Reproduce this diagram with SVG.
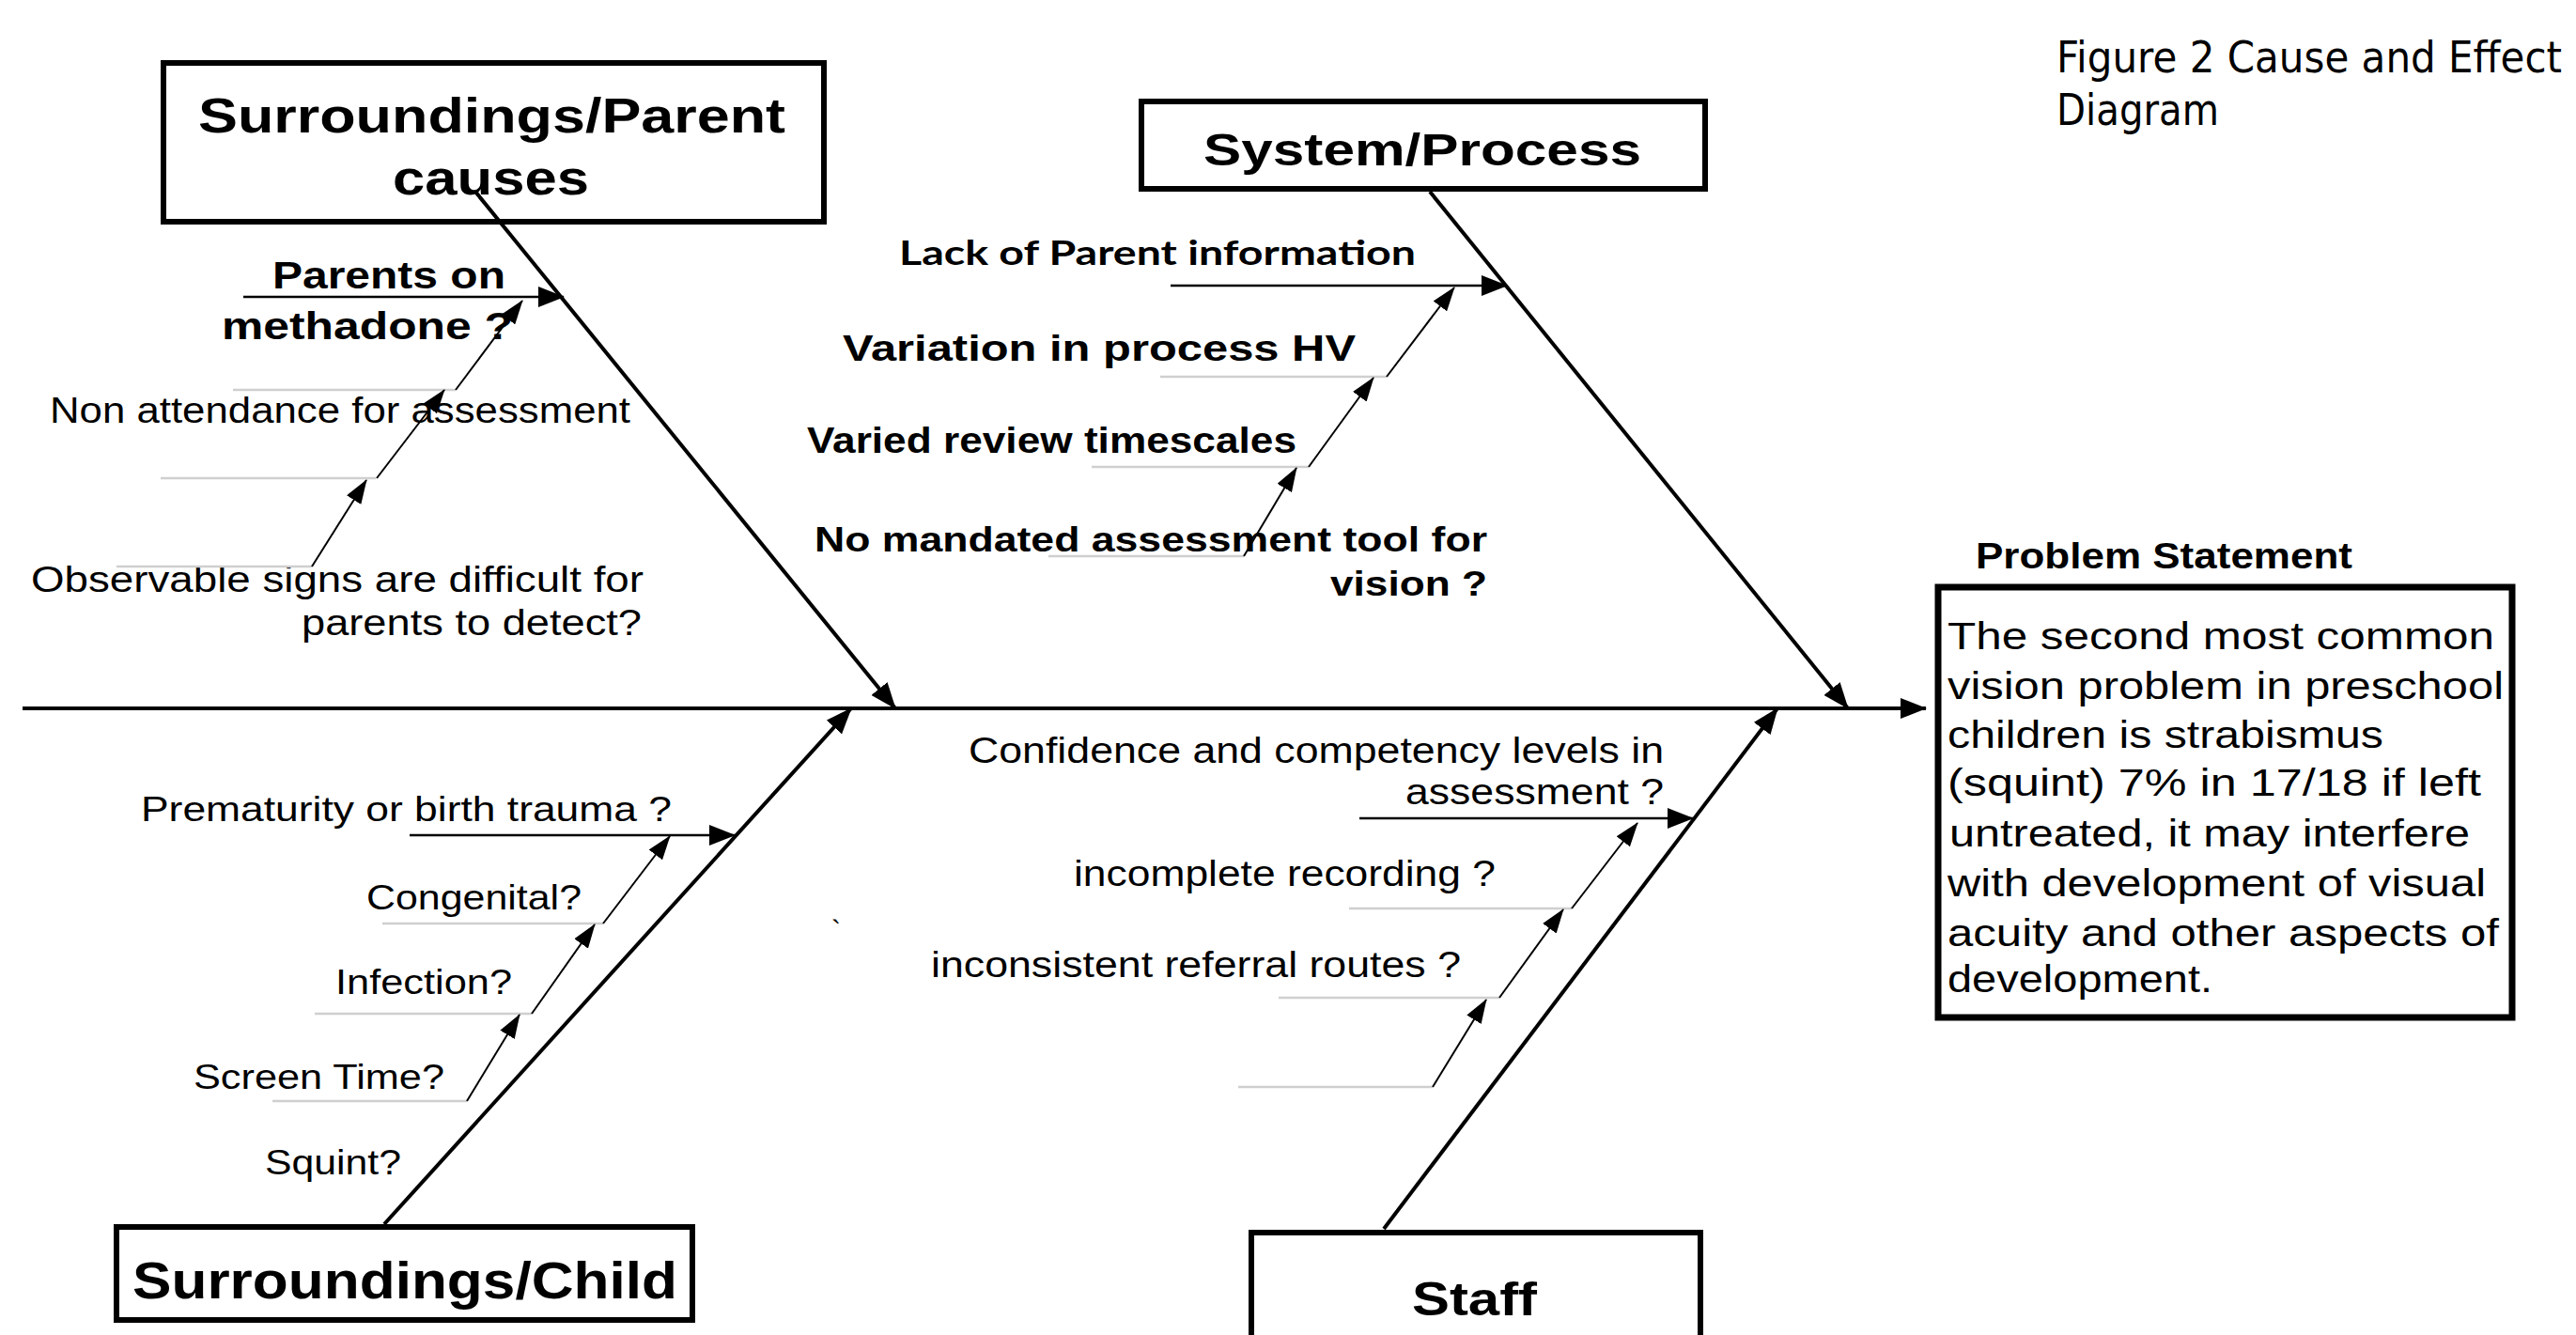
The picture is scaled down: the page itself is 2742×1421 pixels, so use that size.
<svg xmlns="http://www.w3.org/2000/svg" width="2742" height="1421" viewBox="0 0 2742 1421">
<defs>
<marker id="big" markerUnits="userSpaceOnUse" markerWidth="28" markerHeight="22" refX="27" refY="11" orient="auto"><path d="M0,0 L28,11 L0,22 z" fill="#000"/></marker>
<marker id="small" markerUnits="userSpaceOnUse" markerWidth="26" markerHeight="18" refX="25" refY="9" orient="auto"><path d="M0,0 L26,9 L0,18 z" fill="#000"/></marker>
</defs>
<style>
.box{fill:#fff;stroke:#000;stroke-width:6}
.title{font-family:"Liberation Sans",Arial,sans-serif;font-weight:bold;fill:#000}
.t{font-family:"Liberation Sans",Arial,sans-serif;fill:#000}
.b{font-family:"Liberation Sans",Arial,sans-serif;font-weight:bold;fill:#000}
.bone{stroke:#000;stroke-width:4;fill:none;marker-end:url(#big)}
.harr{stroke:#000;stroke-width:2.5;fill:none;marker-end:url(#big)}
.diag{stroke:#000;stroke-width:2;fill:none;marker-end:url(#small)}
.grey{stroke:#cfcfcf;stroke-width:2.5;fill:none}
</style>
<rect width="2742" height="1421" fill="#fff"/>

<g id="node-parent">
<rect class="box" x="174" y="67" width="703" height="169"/>
<text class="title" x="211" y="141" font-size="52" textLength="625" lengthAdjust="spacingAndGlyphs">Surroundings/Parent</text>
<text class="title" x="418" y="207" font-size="52" textLength="209" lengthAdjust="spacingAndGlyphs">causes</text>
</g>

<g id="node-system">
<rect class="box" x="1215" y="108" width="600" height="93"/>
<text class="title" x="1281" y="176" font-size="49" textLength="466" lengthAdjust="spacingAndGlyphs">System/Process</text>
</g>

<g id="node-child">
<rect class="box" x="124" y="1306" width="613" height="99"/>
<text class="title" x="141" y="1382" font-size="56" textLength="580" lengthAdjust="spacingAndGlyphs">Surroundings/Child</text>
</g>

<g id="node-staff">
<rect class="box" x="1332" y="1312" width="478" height="150"/>
<text class="title" x="1503" y="1400" font-size="50" textLength="133" lengthAdjust="spacingAndGlyphs">Staff</text>
</g>

<g id="node-problem">
<text class="b" x="2103" y="605" font-size="38" textLength="401" lengthAdjust="spacingAndGlyphs">Problem Statement</text>
<rect x="2063" y="625" width="611" height="458" fill="#fff" stroke="#000" stroke-width="7"/>
<g class="t" font-size="41">
<text x="2073" y="691" textLength="582" lengthAdjust="spacingAndGlyphs">The second  most common</text>
<text x="2073" y="744" textLength="592" lengthAdjust="spacingAndGlyphs">vision problem in preschool</text>
<text x="2073" y="796" textLength="464" lengthAdjust="spacingAndGlyphs">children is strabismus</text>
<text x="2073" y="847" textLength="568" lengthAdjust="spacingAndGlyphs">(squint) 7%  in 17/18 if left</text>
<text x="2075" y="901" textLength="554" lengthAdjust="spacingAndGlyphs">untreated, it may interfere</text>
<text x="2073" y="954" textLength="573" lengthAdjust="spacingAndGlyphs">with development of visual</text>
<text x="2073" y="1007" textLength="587" lengthAdjust="spacingAndGlyphs">acuity and other aspects of</text>
<text x="2073" y="1056" textLength="282" lengthAdjust="spacingAndGlyphs">development.</text>
</g>
</g>

<g id="figure-caption">
<text x="2189" y="77" font-family="'DejaVu Sans',sans-serif" font-size="46" textLength="538" lengthAdjust="spacingAndGlyphs" fill="#000">Figure 2 Cause and Effect</text>
<text x="2189" y="133" font-family="'DejaVu Sans',sans-serif" font-size="46" textLength="173" lengthAdjust="spacingAndGlyphs" fill="#000">Diagram</text>
</g>

<g id="causes-parent">
<text class="b" x="290" y="307" font-size="41" textLength="248" lengthAdjust="spacingAndGlyphs">Parents on</text>
<text class="b" x="236" y="361" font-size="41" textLength="310" lengthAdjust="spacingAndGlyphs">methadone ?</text>
<text class="t" x="53" y="450" font-size="38" textLength="618" lengthAdjust="spacingAndGlyphs">Non attendance  for assessment</text>
<text class="t" x="33" y="630" font-size="38" textLength="652" lengthAdjust="spacingAndGlyphs">Observable  signs  are difficult for</text>
<text class="t" x="321" y="676" font-size="38" textLength="362" lengthAdjust="spacingAndGlyphs">parents  to  detect?</text>
</g>

<g id="causes-system">
<text x="957" y="282" font-family="Lato,'Liberation Sans',sans-serif" font-weight="bold" font-size="37" textLength="550" lengthAdjust="spacingAndGlyphs" fill="#000">Lack of  Parent information</text>
<text class="b" x="897" y="384" font-size="38" textLength="546" lengthAdjust="spacingAndGlyphs">Variation in process HV</text>
<text class="b" x="859" y="482" font-size="38" textLength="521" lengthAdjust="spacingAndGlyphs">Varied review timescales</text>
<text class="b" x="867" y="587" font-size="36" textLength="716" lengthAdjust="spacingAndGlyphs">No mandated assessment  tool for</text>
<text class="b" x="1416" y="634" font-size="36" textLength="167" lengthAdjust="spacingAndGlyphs">vision  ?</text>
</g>

<g id="causes-child">
<text class="t" x="150" y="874" font-size="37" textLength="565" lengthAdjust="spacingAndGlyphs">Prematurity or birth trauma  ?</text>
<text class="t" x="390" y="968" font-size="37" textLength="229" lengthAdjust="spacingAndGlyphs">Congenital?</text>
<text class="t" x="357" y="1058" font-size="37" textLength="188" lengthAdjust="spacingAndGlyphs">Infection?</text>
<text class="t" x="206" y="1159" font-size="37" textLength="267" lengthAdjust="spacingAndGlyphs">Screen Time?</text>
<text class="t" x="282" y="1250" font-size="37" textLength="145" lengthAdjust="spacingAndGlyphs">Squint?</text>
<text class="t" x="885" y="1000" font-size="30">`</text>
</g>

<g id="causes-staff">
<text class="t" x="1031" y="812" font-size="38" textLength="740" lengthAdjust="spacingAndGlyphs">Confidence and competency  levels  in</text>
<text class="t" x="1496" y="856" font-size="38" textLength="275" lengthAdjust="spacingAndGlyphs">assessment  ?</text>
<text class="t" x="1143" y="943" font-size="38" textLength="449" lengthAdjust="spacingAndGlyphs">incomplete  recording ?</text>
<text class="t" x="991" y="1040" font-size="38" textLength="564" lengthAdjust="spacingAndGlyphs">inconsistent  referral routes ?</text>
</g>

<g id="connectors">
<line class="bone" x1="24" y1="754" x2="2050" y2="754"/>
<line class="bone" x1="506" y1="204" x2="953" y2="754"/>
<line class="bone" x1="1522" y1="204" x2="1967" y2="754"/>
<line class="bone" x1="409" y1="1303" x2="906" y2="754"/>
<line class="bone" x1="1473" y1="1308" x2="1892" y2="754"/>

<line class="harr" x1="259" y1="316" x2="600" y2="316"/>
<line class="harr" x1="1246" y1="304" x2="1604" y2="304"/>
<line class="harr" x1="436" y1="889" x2="782" y2="889"/>
<line class="harr" x1="1447" y1="871" x2="1802" y2="871"/>

<line class="grey" x1="124" y1="603" x2="332" y2="603"/>
<line class="grey" x1="171" y1="509" x2="400" y2="509"/>
<line class="grey" x1="248" y1="415" x2="485" y2="415"/>
<line class="grey" x1="1235" y1="401" x2="1476" y2="401"/>
<line class="grey" x1="1162" y1="497" x2="1393" y2="497"/>
<line class="grey" x1="1116" y1="592" x2="1324" y2="592"/>
<line class="grey" x1="407" y1="983" x2="642" y2="983"/>
<line class="grey" x1="335" y1="1079" x2="566" y2="1079"/>
<line class="grey" x1="290" y1="1172" x2="497" y2="1172"/>
<line class="grey" x1="1436" y1="967" x2="1673" y2="967"/>
<line class="grey" x1="1361" y1="1062" x2="1596" y2="1062"/>
<line class="grey" x1="1318" y1="1157" x2="1525" y2="1157"/>

<line class="diag" x1="332" y1="603" x2="390" y2="511"/>
<line class="diag" x1="401" y1="509" x2="473" y2="415"/>
<line class="diag" x1="485" y1="415" x2="556" y2="320"/>
<line class="diag" x1="1324" y1="592" x2="1380" y2="498"/>
<line class="diag" x1="1393" y1="497" x2="1462" y2="402"/>
<line class="diag" x1="1476" y1="401" x2="1548" y2="306"/>
<line class="diag" x1="497" y1="1172" x2="553" y2="1080"/>
<line class="diag" x1="566" y1="1079" x2="633" y2="984"/>
<line class="diag" x1="642" y1="983" x2="713" y2="890"/>
<line class="diag" x1="1525" y1="1157" x2="1582" y2="1064"/>
<line class="diag" x1="1596" y1="1062" x2="1664" y2="968"/>
<line class="diag" x1="1673" y1="967" x2="1743" y2="876"/>
</g>
</svg>
